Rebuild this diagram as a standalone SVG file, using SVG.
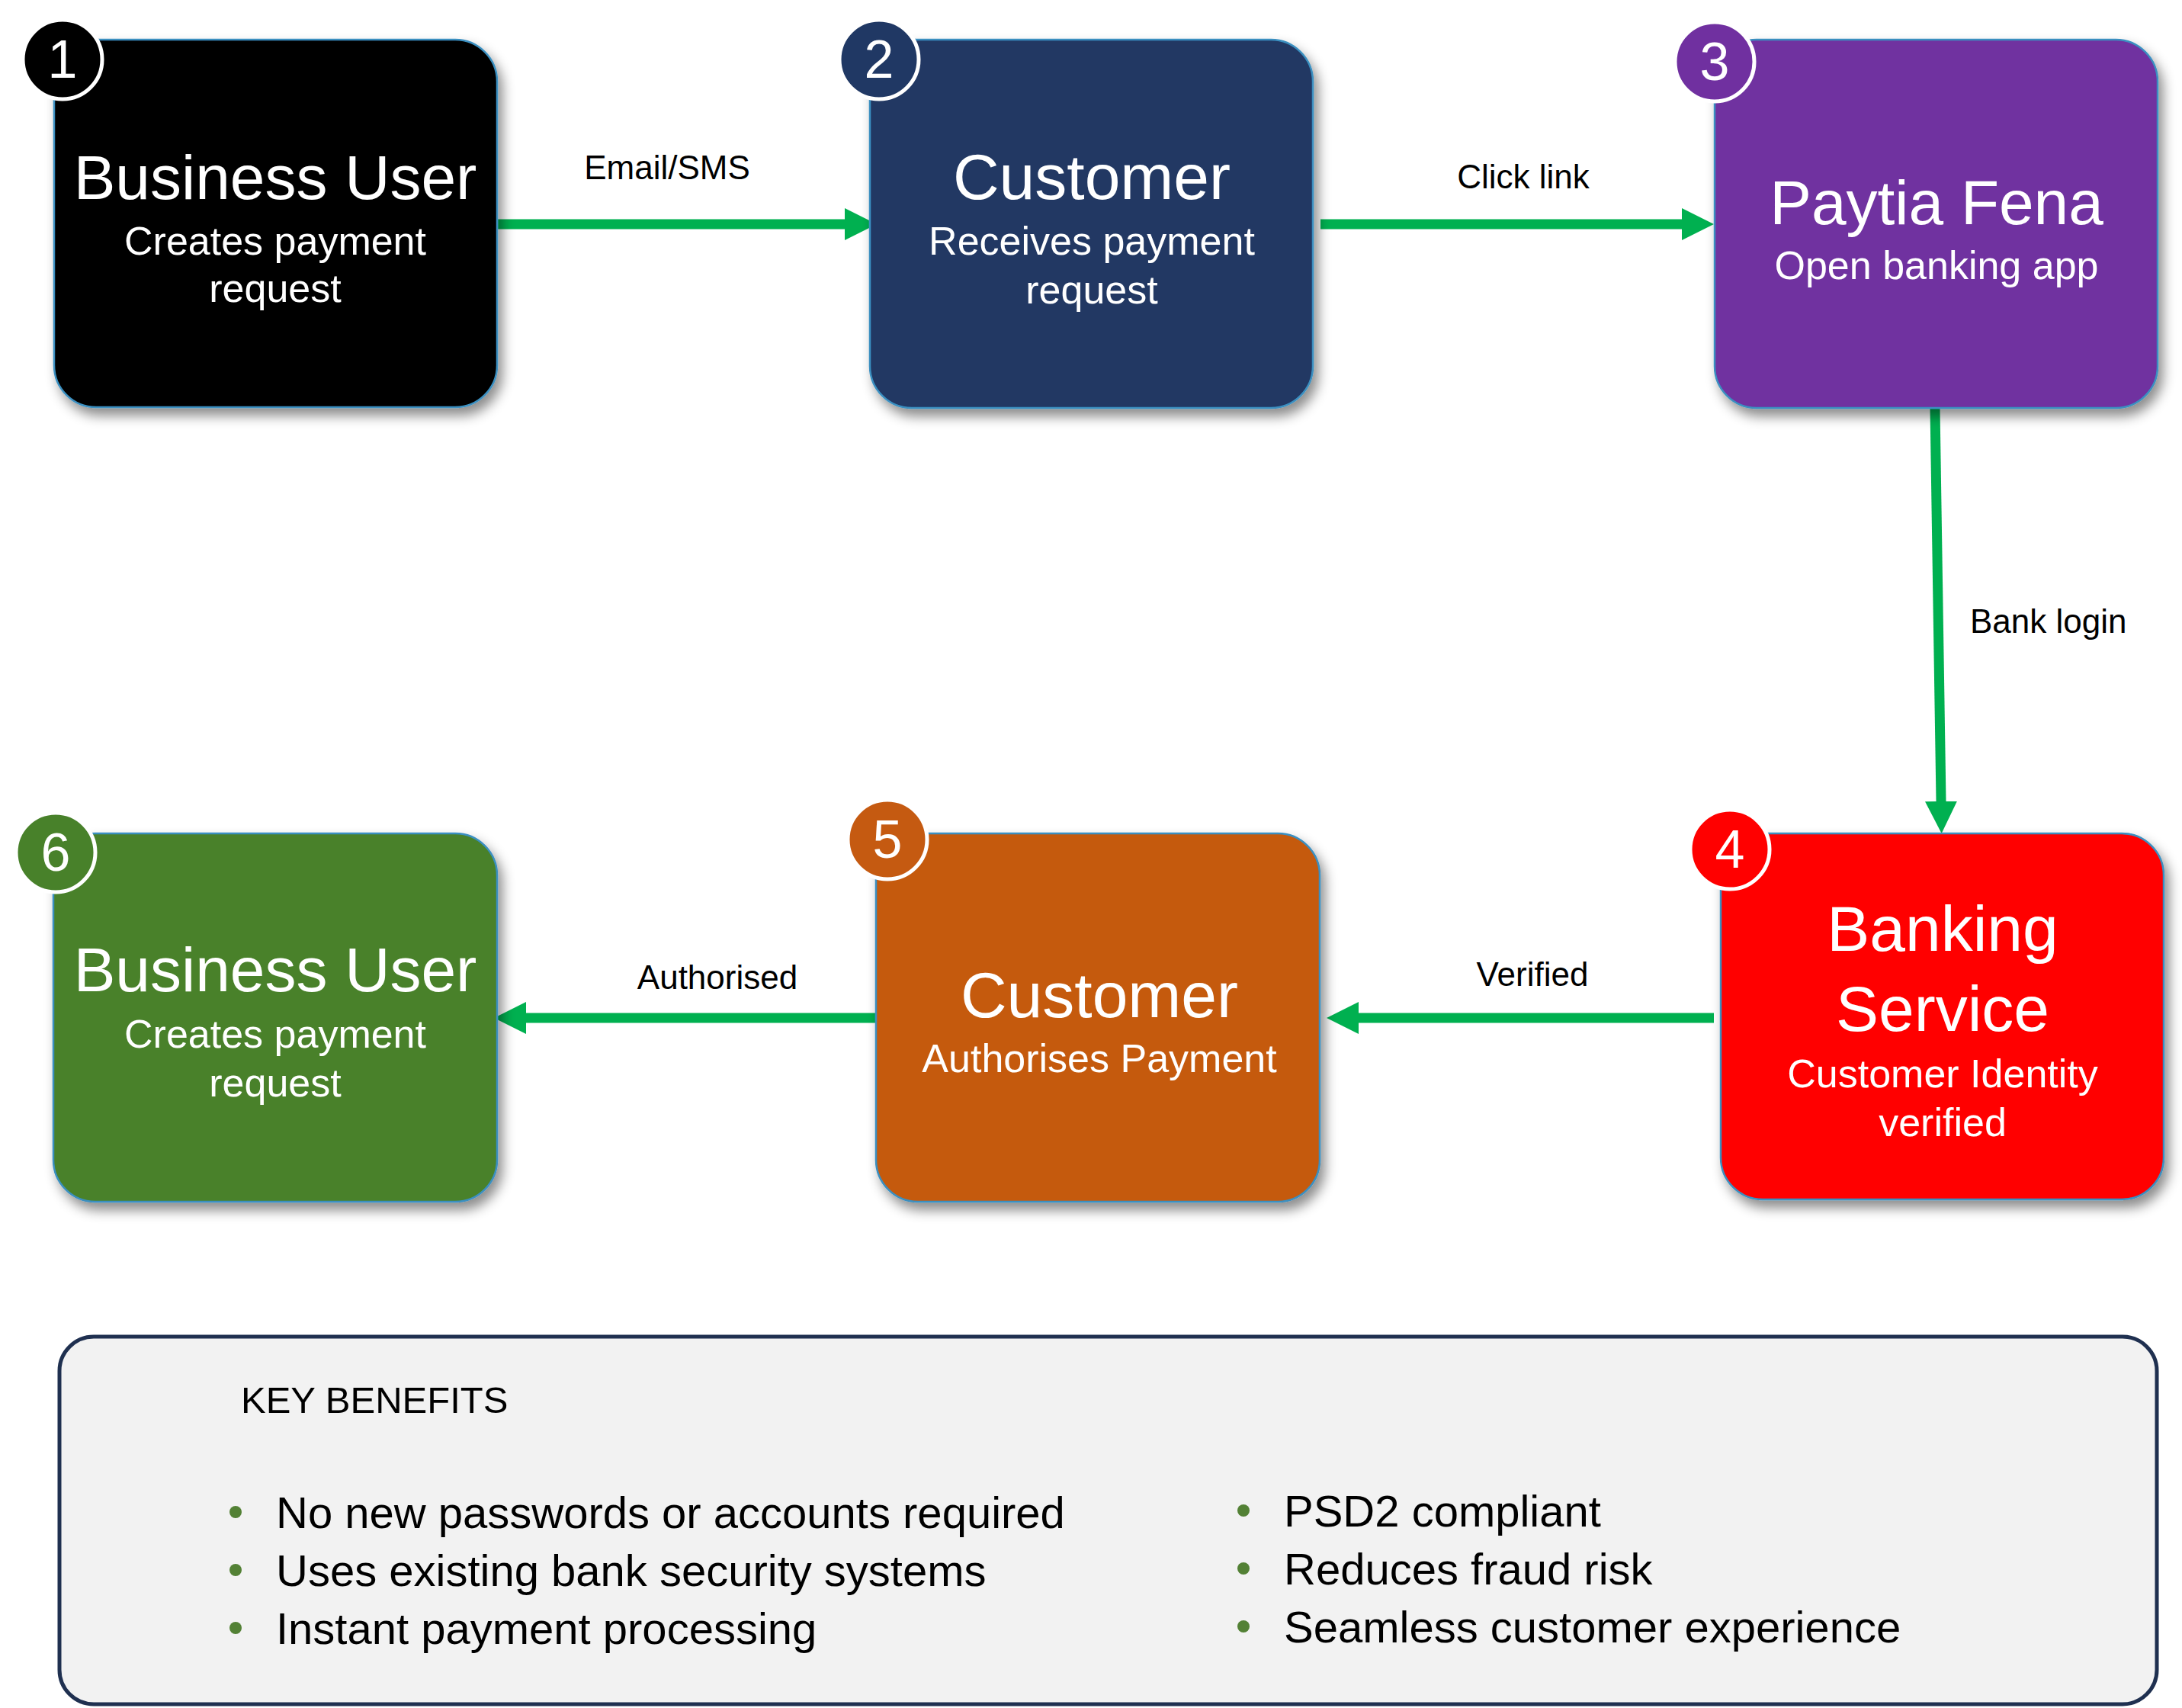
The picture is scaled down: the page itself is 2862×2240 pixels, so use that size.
<svg xmlns="http://www.w3.org/2000/svg" width="2862" height="2240" viewBox="0 0 2862 2240">
<defs>
<filter id="shadow" x="-10%" y="-10%" width="130%" height="130%">
<feDropShadow dx="6" dy="10" stdDeviation="8" flood-color="#000" flood-opacity="0.45"/>
</filter>
<marker id="arrow" viewBox="0 0 42 42" refX="0" refY="21" markerWidth="42" markerHeight="42" markerUnits="userSpaceOnUse" orient="auto">
<path d="M0,0 L42,21 L0,42 z" fill="#00b050"/>
</marker>
<style>
.box{stroke:#3a8fc0;stroke-width:2.5;filter:url(#shadow)}
.badge{stroke:#fff;stroke-width:5}
.num{font-family:"Liberation Sans",Arial,sans-serif;font-size:70px;fill:#fff;text-anchor:middle}
.title{font-family:"Liberation Sans",Arial,sans-serif;font-size:84px;fill:#fff;text-anchor:middle}
.sub{font-family:"Liberation Sans",Arial,sans-serif;font-size:52px;fill:#fff;text-anchor:middle}
.conn{stroke:#00b050;stroke-width:13;fill:none;marker-end:url(#arrow)}
.lbl{font-family:"Liberation Sans",Arial,sans-serif;font-size:44px;fill:#000}
.kb{font-family:"Liberation Sans",Arial,sans-serif;font-size:58px;fill:#000}
.bullet{fill:#538135}
</style>
</defs>
<rect width="2862" height="2240" fill="#fff"/>

<g id="connectors">
<path class="conn" d="M652,294 L1108,294"/>
<path class="conn" d="M1732,294 L2206,294"/>
<path class="conn" d="M2538,535 L2546,1051"/>
<path class="conn" d="M2248,1335 L1782,1335"/>
<path class="conn" d="M1149,1335 L690,1335"/>
<text class="lbl" x="875" y="235" text-anchor="middle">Email/SMS</text>
<text class="lbl" x="1998" y="247" text-anchor="middle">Click link</text>
<text class="lbl" x="2584" y="830">Bank login</text>
<text class="lbl" x="2010" y="1293" text-anchor="middle">Verified</text>
<text class="lbl" x="941" y="1297" text-anchor="middle">Authorised</text>
</g>

<g id="node1">
<rect class="box" x="71" y="52" width="581" height="482" rx="55" fill="#000000"/>
<circle class="badge" cx="82" cy="78" r="52" fill="#000000"/>
<text class="num" x="82" y="102">1</text>
<text class="title" x="361" y="261" style="font-size:82px">Business User</text>
<text class="sub" x="361" y="334">Creates payment</text>
<text class="sub" x="361" y="396">request</text>
</g>

<g id="node2">
<rect class="box" x="1141" y="52" width="581" height="483" rx="55" fill="#203864"/>
<circle class="badge" cx="1153" cy="78" r="52" fill="#203864"/>
<text class="num" x="1153" y="102">2</text>
<text class="title" x="1432" y="261">Customer</text>
<text class="sub" x="1432" y="334">Receives payment</text>
<text class="sub" x="1432" y="398">request</text>
</g>

<g id="node3">
<rect class="box" x="2249" y="52" width="581" height="483" rx="55" fill="#7030a0"/>
<circle class="badge" cx="2249" cy="81" r="52" fill="#7030a0"/>
<text class="num" x="2249" y="105">3</text>
<text class="title" x="2540" y="294" style="font-size:82px">Paytia Fena</text>
<text class="sub" x="2540" y="366">Open banking app</text>
</g>

<g id="node4">
<rect class="box" x="2257" y="1093" width="581" height="480" rx="55" fill="#ff0000"/>
<circle class="badge" cx="2269" cy="1114" r="52" fill="#ff0000"/>
<text class="num" x="2269" y="1138">4</text>
<text class="title" x="2548" y="1247">Banking</text>
<text class="title" x="2548" y="1352">Service</text>
<text class="sub" x="2548" y="1426">Customer Identity</text>
<text class="sub" x="2548" y="1490">verified</text>
</g>

<g id="node5">
<rect class="box" x="1149" y="1093" width="582" height="483" rx="55" fill="#c55a11"/>
<circle class="badge" cx="1164" cy="1101" r="52" fill="#c55a11"/>
<text class="num" x="1164" y="1125">5</text>
<text class="title" x="1442" y="1334">Customer</text>
<text class="sub" x="1442" y="1406">Authorises Payment</text>
</g>

<g id="node6">
<rect class="box" x="70" y="1093" width="582" height="483" rx="55" fill="#48812a"/>
<circle class="badge" cx="73" cy="1118" r="52" fill="#48812a"/>
<text class="num" x="73" y="1142">6</text>
<text class="title" x="361" y="1300" style="font-size:82px">Business User</text>
<text class="sub" x="361" y="1374">Creates payment</text>
<text class="sub" x="361" y="1438">request</text>
</g>

<g id="benefits">
<rect x="78" y="1753" width="2751" height="482" rx="45" fill="#f2f2f2" stroke="#1f3050" stroke-width="5"/>
<text class="lbl" x="316" y="1853" style="font-size:49px">KEY BENEFITS</text>
<circle class="bullet" cx="309" cy="1983" r="8"/>
<circle class="bullet" cx="309" cy="2059" r="8"/>
<circle class="bullet" cx="309" cy="2135" r="8"/>
<text class="kb" x="362" y="2004">No new passwords or accounts required</text>
<text class="kb" x="362" y="2080">Uses existing bank security systems</text>
<text class="kb" x="362" y="2156">Instant payment processing</text>
<circle class="bullet" cx="1631" cy="1981" r="8"/>
<circle class="bullet" cx="1631" cy="2057" r="8"/>
<circle class="bullet" cx="1631" cy="2133" r="8"/>
<text class="kb" x="1684" y="2002">PSD2 compliant</text>
<text class="kb" x="1684" y="2078">Reduces fraud risk</text>
<text class="kb" x="1684" y="2154">Seamless customer experience</text>
</g>
</svg>
